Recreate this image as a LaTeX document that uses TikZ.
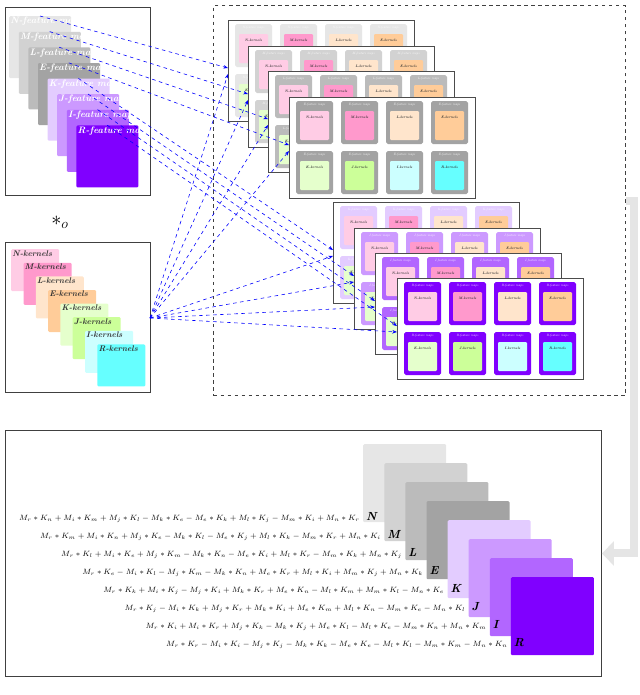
\documentclass[tikz,border=0pt]{standalone}
\usepackage{amsmath}
\usetikzlibrary{arrows.meta}

% feature map colours
\definecolor{fN}{HTML}{E6E6E6}
\definecolor{fM}{HTML}{D2D2D2}
\definecolor{fL}{HTML}{BBBBBB}
\definecolor{fE}{HTML}{A3A3A3}
\definecolor{fK}{HTML}{E3CCFF}
\definecolor{fJ}{HTML}{CC99FF}
\definecolor{fI}{HTML}{B266FF}
\definecolor{fR}{HTML}{8000FF}
% kernel colours
\definecolor{kN}{HTML}{FFCCE5}
\definecolor{kM}{HTML}{FF99CC}
\definecolor{kL}{HTML}{FFE5CC}
\definecolor{kE}{HTML}{FFCC99}
\definecolor{kK}{HTML}{E5FFCC}
\definecolor{kJ}{HTML}{CCFF99}
\definecolor{kI}{HTML}{CCFFFF}
\definecolor{kR}{HTML}{66FFFF}

\def\px{0.03cm}

\tikzset{
  box/.style={draw=black!75, line width=0.8pt, inner sep=0pt, anchor=north west},
  panel/.style={draw=black!70, line width=0.6pt, fill=white, inner sep=0pt,
    anchor=north west, minimum width=186*\px, minimum height=101*\px},
  fmap/.style={inner sep=0pt, anchor=north west, rounded corners=1pt,
    minimum width=62*\px, minimum height=62*\px},
  kmap/.style={inner sep=0pt, anchor=north west, rounded corners=1pt,
    minimum width=48*\px, minimum height=42*\px},
  bmap/.style={inner sep=0pt, anchor=north west, rounded corners=1pt,
    minimum width=83*\px, minimum height=78*\px},
  fmtxt/.style={text=white, font=\footnotesize\bfseries\itshape, inner sep=1pt, anchor=north west},
  kmtxt/.style={text=black!80, font=\scriptsize\bfseries\itshape, inner sep=1pt, anchor=north west},
  celltxt/.style={text=white, font=\itshape, scale=0.28, inner sep=0pt},
  kertxt/.style={text=black!80, font=\bfseries\itshape, scale=0.3, inner sep=0pt},
  link/.style={blue, dashed, line width=0.5pt, -{Stealth[length=4pt]}},
}

% one panel of 2x4 cells: name, x, y, letter, colour
\newcommand\fmpanel[5]{%
  \node[panel] (#1) at (#2,#3) {};
  \foreach \k [count=\i from 0] in {N,M,L,E,K,J,I,R}{
    \pgfmathsetmacro\cx{#2+7+45*mod(\i,4)}
    \pgfmathsetmacro\cy{#3+4+50*int(\i/4)}
    \fill[fill=#5, rounded corners=1.5pt] (\cx,\cy) rectangle ++(37,43);
    \node[celltxt] (#1c\i) at (\cx+18.5,\cy+3.5) {#4-feature maps};
    \fill[fill=k\k, rounded corners=1pt] (\cx+4,\cy+10) rectangle ++(29,29);
    \node[kertxt] (#1k\i) at (\cx+18.5,\cy+16) {\k-kernels};
  }%
}

\begin{document}
\begin{tikzpicture}[x=\px, y=-\px]
  \useasboundingbox (0,0) rectangle (640,695);

  % input feature maps
  \node[box, minimum width=145*\px, minimum height=188*\px] (fbox) at (5,7) {};
  \foreach \f [count=\i from 0] in {N,M,L,E,K,J,I,R}{
    \node[fmap, fill=f\f] (fm\f) at (9+9.6*\i, 16+15.6*\i) {};
    \node[fmtxt] (ft\f) at (fm\f.north west) {\f-feature maps};
    \coordinate (fs\f) at (40+9.6*\i, 16+15.6*\i);
  }

  \node (op) at (60,222) {\LARGE $*_o$};

  % kernels
  \node[box, minimum width=145*\px, minimum height=150*\px] (kbox) at (5,242) {};
  \foreach \f [count=\i from 0] in {N,M,L,E,K,J,I,R}{
    \node[kmap, fill=k\f] (km\f) at (11+12.3*\i, 249+13.6*\i) {};
    \node[kmtxt] (kt\f) at (km\f.north west) {\f-kernels};
  }
  \coordinate (ks) at (150,318);

  % convolution panels
  \node[draw=black!75, dashed, line width=0.9pt, inner sep=0pt, anchor=north west,
    minimum width=412*\px, minimum height=390*\px] (cbox) at (213,5) {};
  \fmpanel{tp1}{228}{20}{N}{fN}
  \fmpanel{tp2}{248}{46}{M}{fM}
  \fmpanel{tp3}{268}{71}{L}{fL}
  \fmpanel{tp4}{289}{97}{E}{fE}
  \fmpanel{bp1}{333}{202}{K}{fK}
  \fmpanel{bp2}{354}{228}{J}{fJ}
  \fmpanel{bp3}{375}{253}{I}{fI}
  \fmpanel{bp4}{397}{278}{R}{fR}

  % links
  \foreach \f/\p in {N/tp1,M/tp2,L/tp3,E/tp4,K/bp1,J/bp2,I/bp3,R/bp4}{
    \draw[link] (fs\f) -- ([yshift=-48*\px]\p.north west);
    \draw[link] (ks) -- ([yshift=-54*\px]\p.north west);
  }

  % result
  \node[box, minimum width=596*\px, minimum height=246*\px] (rbox) at (5,430) {};
  \foreach \f/\eq [count=\i from 0] in {
    N/{M_r*K_n+M_i*K_m+M_j*K_l-M_k*K_e-M_e*K_k+M_l*K_j-M_m*K_i+M_n*K_r},
    M/{M_r*K_m+M_i*K_n+M_j*K_e-M_k*K_l-M_e*K_j+M_l*K_k-M_m*K_r+M_n*K_i},
    L/{M_r*K_l+M_i*K_e+M_j*K_m-M_k*K_n-M_e*K_i+M_l*K_r-M_m*K_k+M_n*K_j},
    E/{M_r*K_e-M_i*K_l-M_j*K_m-M_k*K_n+M_e*K_r+M_l*K_i+M_m*K_j+M_n*K_k},
    K/{M_r*K_k+M_i*K_j-M_j*K_i+M_k*K_r+M_e*K_n-M_l*K_m+M_m*K_l-M_n*K_e},
    J/{M_r*K_j-M_i*K_k+M_j*K_r+M_k*K_i+M_e*K_m+M_l*K_n-M_m*K_e-M_n*K_l},
    I/{M_r*K_i+M_i*K_r+M_j*K_k-M_k*K_j+M_e*K_l-M_l*K_e-M_m*K_n+M_n*K_m},
    R/{M_r*K_r-M_i*K_i-M_j*K_j-M_k*K_k-M_e*K_e-M_l*K_l-M_m*K_m-M_n*K_n}}{
    \node[bmap, fill=f\f] (rm\f) at (363+21.1*\i, 444+19*\i) {};
    \node[anchor=base west, inner sep=0pt, font=\bfseries\itshape] (rl\f)
      at (366+21.1*\i, 520+18*\i) {\f};
    \node[anchor=base east, inner sep=0pt, font=\scriptsize, scale=0.93] (re\f)
      at (360+21.1*\i, 520+18*\i) {$\eq$};
  }

  % flow to result
  \draw[gray!20, line width=8*\px, -{Triangle[length=12*\px, width=24*\px]}]
    (cbox.east) -- ++(8,0) |- (rbox.east);
\end{tikzpicture}
\end{document}
